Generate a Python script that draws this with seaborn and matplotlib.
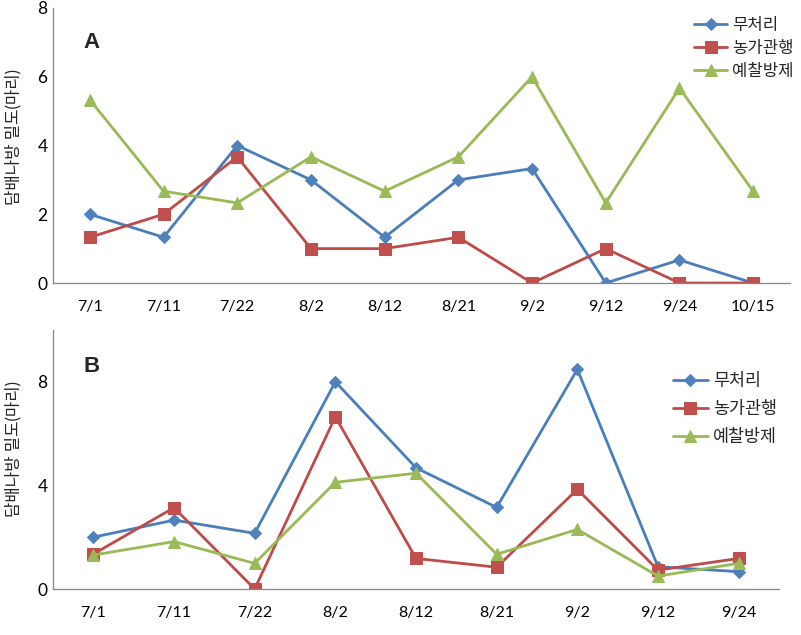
import matplotlib
matplotlib.use("Agg")
import matplotlib.pyplot as plt
import numpy as np
import pandas as pd
import seaborn as sns

# panel A data
dates_a = ['7/1', '7/11', '7/22', '8/2', '8/12', '8/21', '9/2', '9/12', '9/24', '10/15']
control_a = [2.0, 1.33, 4.0, 3.0, 1.33, 3.0, 3.33, 0.0, 0.67, 0.0]
farmer_a = [1.33, 2.0, 3.67, 1.0, 1.0, 1.33, 0.0, 1.0, 0.0, 0.0]
forecast_a = [5.33, 2.67, 2.33, 3.67, 2.67, 3.67, 6.0, 2.33, 5.67, 2.67]

# panel B data
dates_b = ['7/1', '7/11', '7/22', '8/2', '8/12', '8/21', '9/2', '9/12', '9/24']
control_b = [2.0, 2.66, 2.15, 8.0, 4.68, 3.15, 8.48, 0.86, 0.67]
farmer_b = [1.35, 3.14, 0.0, 6.65, 1.18, 0.84, 3.85, 0.73, 1.18]
forecast_b = [1.31, 1.83, 0.99, 4.12, 4.47, 1.34, 2.3, 0.5, 0.99]

series_names = ['무처리', '농가관행', '예찰방제']
colors = ['#4A7EBB', '#BE4B48', '#98B954']
face_colors = ['#4F81BD', '#C0504D', '#9BBB59']
markers = ['D', 's', '^']
marker_sizes = [6.5, 9, 9]
ylabel = '담배나방 밀도(마리)'

sns.set_style("white")
plt.rcParams['font.family'] = ['Lato', 'Noto Sans CJK KR', 'DejaVu Sans']
plt.rcParams['axes.edgecolor'] = '#868686'
plt.rcParams['xtick.color'] = '#868686'
plt.rcParams['ytick.color'] = '#868686'
plt.rcParams['xtick.labelcolor'] = 'black'
plt.rcParams['ytick.labelcolor'] = 'black'

fig = plt.figure(figsize=(8.01, 6.35), dpi=100)
ax_a = fig.add_axes([53 / 801, 1 - 283 / 635, 737 / 801, 275 / 635])
ax_b = fig.add_axes([53 / 801, 1 - 589 / 635, 726 / 801, 259 / 635])


def draw_panel(ax, dates, values, ymax, yticks):
    pos = np.arange(len(dates))
    df = pd.DataFrame({'pos': np.tile(pos, 3),
                       'val': np.concatenate(values),
                       'name': np.repeat(series_names, len(dates))})
    for i, name in enumerate(series_names):
        sub = df[df['name'] == name]
        sns.lineplot(data=sub, x='pos', y='val', ax=ax, color=colors[i], lw=2.0,
                     marker=markers[i], markersize=marker_sizes[i],
                     markerfacecolor=face_colors[i], markeredgecolor=face_colors[i],
                     label=name, sort=False)
    ax.set_xlim(-0.5, len(dates) - 0.5)
    ax.set_ylim(0, ymax)
    ax.set_xticks(pos)
    ax.set_xticklabels(dates)
    ax.set_xticks(np.arange(len(dates) + 1) - 0.5, minor=True)
    ax.tick_params(axis='x', which='major', length=0, labelsize=11.5, pad=12)
    ax.tick_params(axis='x', which='minor', direction='in', length=5, width=0.8)
    ax.set_yticks(yticks)
    ax.tick_params(axis='y', direction='in', length=4, width=0.8, labelsize=12.5, pad=4)
    ax.set_xlabel('')
    ax.set_ylabel('')
    for s in ['top', 'right']:
        ax.spines[s].set_visible(False)
    for s in ['left', 'bottom']:
        ax.spines[s].set_linewidth(0.9)


draw_panel(ax_a, dates_a, [control_a, farmer_a, forecast_a], 8, [0, 2, 4, 6, 8])
draw_panel(ax_b, dates_b, [control_b, farmer_b, forecast_b], 10, [0, 4, 8])

ax_a.legend(loc='upper left', bbox_to_anchor=(694 / 801, 1 - 17 / 635), bbox_transform=fig.transFigure,
            frameon=False, borderaxespad=0, borderpad=0, fontsize=12, handlelength=2.0,
            handletextpad=0.3, labelspacing=0.42)
ax_b.legend(loc='upper left', bbox_to_anchor=(673 / 801, 1 - 373 / 635), bbox_transform=fig.transFigure,
            frameon=False, borderaxespad=0, borderpad=0, fontsize=12.5, handlelength=2.0,
            handletextpad=0.3, labelspacing=0.68)

fig.text(92 / 801, 1 - 42 / 635, 'A', fontsize=16, fontweight='bold', ha='center', va='center',
         family='Liberation Sans')
fig.text(92 / 801, 1 - 367 / 635, 'B', fontsize=16, fontweight='bold', ha='center', va='center',
         family='Liberation Sans')
fig.text(13 / 801, 1 - 137 / 635, ylabel, rotation=90, fontsize=12, ha='center', va='center')
fig.text(13 / 801, 1 - 449 / 635, ylabel, rotation=90, fontsize=12, ha='center', va='center')

fig.savefig('out.png', dpi=100)
